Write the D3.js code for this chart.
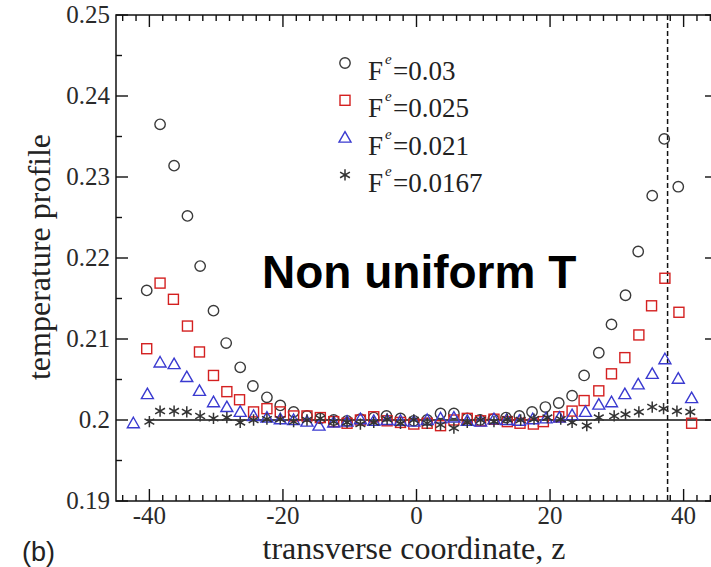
<!DOCTYPE html>
<html>
<head>
<meta charset="utf-8">
<script src="https://cdn.jsdelivr.net/npm/d3@7"></script>
<style>
  html, body { margin: 0; padding: 0; background: #fff; }
  svg { display: block; }
  .tick-label { font-family: "Liberation Serif", "Times New Roman", serif; font-size: 25px; fill: #2a2a2a; }
  .axis-title { font-family: "Liberation Serif", "Times New Roman", serif; font-size: 32px; fill: #222; }
  .legend-text { font-family: "Liberation Serif", "Times New Roman", serif; font-size: 27px; fill: #222; }
</style>
</head>
<body>
<div id="chart"></div>
<script>
// data: z positions and temperature for each force value
const seriesNames = ["0.03", "0.025", "0.021", "0.0167"];

const zCircle = [-40.4, -38.4, -36.3, -34.3, -32.4, -30.4, -28.5, -26.4, -24.5, -22.4, -20.4, -18.4, -16.4, -14.4,
  -12.4, -10.4, -8.4, -6.4, -4.5, -2.4, -0.4, 1.6, 3.6, 5.6, 7.6, 9.5, 11.5, 13.4, 15.4, 17.3, 19.3, 21.3, 23.3,
  25.1, 27.3, 29.2, 31.3, 33.2, 35.3, 37.1, 39.2];
const tCircle = [0.2160, 0.2365, 0.2314, 0.2252, 0.2190, 0.2135, 0.2095, 0.2065, 0.2042, 0.2028, 0.2018, 0.2010,
  0.2005, 0.2002, 0.2000, 0.1999, 0.2001, 0.2003, 0.2005, 0.2002, 0.1999, 0.2000, 0.2008, 0.2008, 0.2002, 0.2000,
  0.2001, 0.2003, 0.2005, 0.2010, 0.2016, 0.2021, 0.2030, 0.2055, 0.2083, 0.2118, 0.2154, 0.2208, 0.2277, 0.2347, 0.2288];

const zSquare = [-40.4, -38.4, -36.4, -34.3, -32.5, -30.4, -28.4, -26.5, -24.4, -22.4, -20.4, -18.4, -16.4, -14.4,
  -12.4, -10.4, -8.4, -6.4, -4.4, -2.4, -0.4, 1.6, 3.6, 5.6, 7.6, 9.6, 11.6, 13.6, 15.5, 17.5, 19.0, 21.3, 23.3,
  25.1, 27.3, 29.2, 31.2, 33.3, 35.2, 37.2, 39.3, 41.2];
const tSquare = [0.2088, 0.2169, 0.2149, 0.2116, 0.2084, 0.2055, 0.2035, 0.2025, 0.2010, 0.2014, 0.2010, 0.2005,
  0.2005, 0.2003, 0.1998, 0.1996, 0.2000, 0.2004, 0.1999, 0.1997, 0.1995, 0.1996, 0.1993, 0.2000, 0.2002, 0.1999,
  0.2001, 0.1998, 0.1996, 0.1995, 0.1998, 0.2004, 0.2011, 0.2024, 0.2036, 0.2057, 0.2077, 0.2105, 0.2141, 0.2175,
  0.2133, 0.1996];

const zTriangle = [-42.4, -40.3, -38.4, -36.3, -34.4, -32.5, -30.4, -28.4, -26.4, -24.4, -22.4, -20.4, -18.4, -16.4,
  -14.6, -12.4, -10.4, -8.4, -6.4, -4.4, -2.4, -0.4, 1.6, 3.6, 5.6, 7.6, 9.6, 11.6, 13.5, 15.4, 17.4, 19.4, 21.4,
  23.3, 25.3, 27.3, 29.2, 31.2, 33.2, 35.3, 37.2, 39.2, 41.2];
const tTriangle = [0.1996, 0.2032, 0.2071, 0.2069, 0.2053, 0.2036, 0.2022, 0.2016, 0.2010, 0.2005, 0.2003, 0.2001,
  0.2000, 0.1998, 0.1993, 0.1997, 0.1998, 0.2001, 0.1999, 0.2000, 0.1999, 0.1998, 0.2000, 0.2002, 0.2003, 0.1999,
  0.1998, 0.2001, 0.2000, 0.1999, 0.2001, 0.2002, 0.2003, 0.2006, 0.2010, 0.2019, 0.2022, 0.2032, 0.2044, 0.2057,
  0.2075, 0.2051, 0.2027];

const zStar = [-40.0, -38.4, -36.3, -34.4, -32.4, -30.4, -28.4, -26.4, -24.4, -22.4, -20.4, -18.4, -16.4, -14.4,
  -12.4, -10.4, -8.4, -6.4, -4.4, -2.4, -0.4, 1.6, 3.6, 5.6, 7.6, 9.6, 11.6, 13.6, 15.6, 17.6, 19.6, 21.6, 23.3,
  25.5, 27.3, 29.6, 31.3, 33.3, 35.3, 37.0, 39.0, 41.0];
const tStar = [0.1998, 0.2011, 0.2011, 0.2010, 0.2005, 0.2002, 0.2003, 0.1997, 0.2000, 0.2001, 0.2001, 0.1998,
  0.2000, 0.2002, 0.1998, 0.1997, 0.1995, 0.1997, 0.2001, 0.1996, 0.2000, 0.1996, 0.1994, 0.1990, 0.1997, 0.2000,
  0.1998, 0.2001, 0.2000, 0.2001, 0.2003, 0.2001, 0.1997, 0.1993, 0.2003, 0.2005, 0.2007, 0.2010, 0.2016, 0.2014,
  0.2011, 0.2010];

const xMajorTicks = [-40, -20, 0, 20, 40];
const yMajorTicks = [0.19, 0.20, 0.21, 0.22, 0.23, 0.24, 0.25];
const yTickLabels = ["0.19", "0.2", "0.21", "0.22", "0.23", "0.24", "0.25"];
const baselineT = 0.2;
const wallZ = 37.6;

const width = 711, height = 567;
const margin = { top: 15, left: 116 };
const plotW = 601, plotH = 486;

const svg = d3.select("#chart").append("svg")
  .attr("width", width)
  .attr("height", height);

const x = d3.scaleLinear().domain([-45, 45]).range([margin.left, margin.left + plotW]);
const y = d3.scaleLinear().domain([0.19, 0.25]).range([margin.top + plotH, margin.top]);

const x0 = x.range()[0], x1 = x.range()[1];
const y0 = y.range()[0], y1 = y.range()[1];

const series = [
  { name: seriesNames[0], z: zCircle, t: tCircle, kind: "circle", color: "#3a3a3a" },
  { name: seriesNames[1], z: zSquare, t: tSquare, kind: "square", color: "#d42020" },
  { name: seriesNames[2], z: zTriangle, t: tTriangle, kind: "triangle", color: "#3a3ad0" },
  { name: seriesNames[3], z: zStar, t: tStar, kind: "star", color: "#333" }
];

// Frame + ticks
const axes = svg.append("g");
axes.append("rect")
  .attr("x", x0).attr("y", y1)
  .attr("width", x1 - x0).attr("height", y0 - y1)
  .attr("fill", "none").attr("stroke", "#111").attr("stroke-width", 1.5);

const xMinor = d3.range(-44, 45, 2).filter(v => !xMajorTicks.includes(v));
const yMinor = d3.range(0.195, 0.25, 0.01);

function tickLines(values, scale, isX, len) {
  values.forEach(v => {
    const p = scale(v);
    if (isX) {
      axes.append("line").attr("x1", p).attr("x2", p).attr("y1", y0).attr("y2", y0 - len);
      axes.append("line").attr("x1", p).attr("x2", p).attr("y1", y1).attr("y2", y1 + len);
    } else {
      axes.append("line").attr("y1", p).attr("y2", p).attr("x1", x0).attr("x2", x0 + len);
      axes.append("line").attr("y1", p).attr("y2", p).attr("x1", x1).attr("x2", x1 - len);
    }
  });
}
tickLines(xMajorTicks, x, true, 12);
tickLines(xMinor, x, true, 6);
tickLines(yMajorTicks, y, false, 12);
tickLines(yMinor, y, false, 6);
axes.selectAll("line").attr("stroke", "#111").attr("stroke-width", 1.4);

axes.selectAll(".xlab")
  .data(xMajorTicks)
  .join("text")
  .attr("class", "tick-label")
  .attr("x", d => x(d))
  .attr("y", y0 + 23)
  .attr("text-anchor", "middle")
  .text(d => d);

axes.selectAll(".ylab")
  .data(yMajorTicks)
  .join("text")
  .attr("class", "tick-label")
  .attr("x", x0 - 6)
  .attr("y", d => y(d) + 8)
  .attr("text-anchor", "end")
  .text((d, i) => yTickLabels[i]);

svg.append("text")
  .attr("class", "axis-title")
  .attr("x", 414).attr("y", 559)
  .attr("text-anchor", "middle")
  .text("transverse coordinate, z");

svg.append("text")
  .attr("class", "axis-title")
  .attr("transform", "translate(50,257) rotate(-90)")
  .attr("text-anchor", "middle")
  .text("temperature profile");

svg.append("text")
  .attr("x", 22).attr("y", 561)
  .style("font-family", "'Liberation Sans', Arial, sans-serif")
  .style("font-size", "27px")
  .attr("fill", "#222")
  .text("(b)");

// Reference lines
svg.append("line")
  .attr("x1", x(-40.4)).attr("x2", x1)
  .attr("y1", y(baselineT)).attr("y2", y(baselineT))
  .attr("stroke", "#111").attr("stroke-width", 1.6);

svg.append("line")
  .attr("x1", x(wallZ)).attr("x2", x(wallZ))
  .attr("y1", y1).attr("y2", y0)
  .attr("stroke", "#111").attr("stroke-width", 1.5)
  .attr("stroke-dasharray", "5,3");

// Markers
function drawMarker(sel, kind, color) {
  if (kind === "circle") {
    sel.append("circle").attr("r", 5.2).attr("fill", "none").attr("stroke", color).attr("stroke-width", 1.4);
  } else if (kind === "square") {
    sel.append("rect").attr("x", -5).attr("y", -5).attr("width", 10).attr("height", 10)
      .attr("fill", "none").attr("stroke", color).attr("stroke-width", 1.4);
  } else if (kind === "triangle") {
    sel.append("path").attr("d", "M0,-6L6,4.5L-6,4.5Z")
      .attr("fill", "none").attr("stroke", color).attr("stroke-width", 1.4);
  } else {
    sel.append("path").attr("d", d3.symbol(d3.symbolAsterisk, 90)())
      .attr("fill", "none").attr("stroke", color).attr("stroke-width", 1.5);
  }
}

const marks = svg.append("g");
series.forEach(s => {
  const pts = s.z.map((z, i) => ({ z, t: s.t[i] }));
  marks.append("g")
    .selectAll("g")
    .data(pts)
    .join("g")
    .attr("transform", d => `translate(${x(d.z)},${y(d.t)})`)
    .each(function () { drawMarker(d3.select(this), s.kind, s.color); });
});

// Legend
const legend = svg.append("g");
series.forEach((s, i) => {
  const yy = 63 + i * 37.3;
  drawMarker(legend.append("g").attr("transform", `translate(345,${yy})`), s.kind, s.color);
  legend.append("text").attr("class", "legend-text").attr("x", 368).attr("y", yy + 17).text("F");
  legend.append("text").attr("class", "legend-text").attr("x", 385).attr("y", yy + 1)
    .style("font-size", "15px").style("font-style", "italic").text("e");
  legend.append("text").attr("class", "legend-text").attr("x", 393).attr("y", yy + 17).text("=" + s.name);
});

svg.append("text")
  .attr("x", 262).attr("y", 288)
  .style("font-family", "'Liberation Sans', Arial, sans-serif")
  .style("font-weight", "bold")
  .style("font-size", "46px")
  .attr("fill", "#000")
  .text("Non uniform T");
</script>
</body>
</html>
